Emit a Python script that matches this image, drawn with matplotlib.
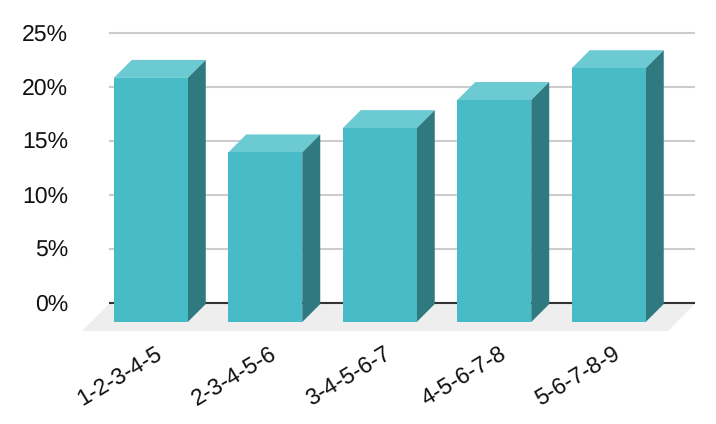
import matplotlib.pyplot as plt
from matplotlib.patches import Polygon
from matplotlib.transforms import ScaledTranslation

plt.rcParams['font.family'] = ['Liberation Sans', 'DejaVu Sans']
plt.rcParams['text.hinting'] = 'no_hinting'
plt.rcParams['text.hinting_factor'] = 1

categories = ['1-2-3-4-5', '2-3-4-5-6', '3-4-5-6-7', '4-5-6-7-8', '5-6-7-8-9']
values = [22.6, 15.7, 17.95, 20.55, 23.5]
y_ticks = [0, 5, 10, 15, 20, 25]

W, H = 716, 424
# pixel layout of the back plane
left, right, top, base = 109, 695, 33, 303
spacing = 114.5
first_center = 150.75
bar_w = 74 / spacing
px_y = (base - top) / 25      # pixels per percent
dx = 18 / spacing             # depth of the 3d effect, in data units
dy = 18 / px_y
front_drop = 19 / px_y        # bars stand in front of the back wall

fig = plt.figure(figsize=(W / 100, H / 100), dpi=100)
ax = fig.add_axes([left / W, 1 - base / H, (right - left) / W, (base - top) / H])
ax.set_xlim((left - first_center) / spacing, (right - first_center) / spacing)
ax.set_ylim(0, 25)

# floor
fx0, fx1 = ax.get_xlim()
shift = 27 / spacing
floor = Polygon([(fx0, -1 / px_y), (fx1, -1 / px_y),
                 (fx1 - shift, -28 / px_y), (fx0 - shift, -28 / px_y)],
                closed=True, fc='#EEEEEE', ec='none', clip_on=False, zorder=1)
ax.add_patch(floor)

ax.set_yticks(y_ticks)
ax.set_yticklabels([f'{v}%' for v in y_ticks])
ax.set_xticks(range(len(categories)))
ax.set_xticklabels(categories, rotation=31, ha='right', rotation_mode='anchor')
ax.tick_params(axis='y', length=0, pad=29.5, labelsize=16.8, labelcolor='#111111')
ax.tick_params(axis='x', length=0, pad=29, labelsize=16.8, labelcolor='#111111')
# nudge the slanted labels to the right of the tick
for lab in ax.get_xticklabels():
    lab.set_transform(lab.get_transform() + ScaledTranslation(3 / 72, 0, fig.dpi_scale_trans))
for lab in ax.get_yticklabels():
    lab.set_transform(lab.get_transform() + ScaledTranslation(0, 0.7 / 72, fig.dpi_scale_trans))
for s in ax.spines.values():
    s.set_visible(False)
ax.grid(axis='y', color='#CCCCCC', lw=1.5, zorder=2, clip_on=False, solid_capstyle='butt')
ax.set_axisbelow(True)
ax.axhline(0, color='#333333', lw=1.5, zorder=3, clip_on=False, solid_capstyle='butt')

for i, v in enumerate(values):
    x0 = i - bar_w / 2
    x1 = i + bar_w / 2
    y0 = -front_drop
    y1 = v - front_drop
    ax.add_patch(Polygon([(x0, y1), (x1, y1), (x1 + dx, y1 + dy), (x0 + dx, y1 + dy)],
                         fc='#6CCAD2', ec='none', clip_on=False, zorder=4))
    ax.add_patch(Polygon([(x1, y0), (x1 + dx, y0 + dy), (x1 + dx, y1 + dy), (x1, y1)],
                         fc='#2F7A80', ec='none', clip_on=False, zorder=4))
    ax.add_patch(Polygon([(x0, y0), (x1, y0), (x1, y1), (x0, y1)],
                         fc='#47BCC7', ec='none', clip_on=False, zorder=5))

fig.savefig('out.png', dpi=100)
